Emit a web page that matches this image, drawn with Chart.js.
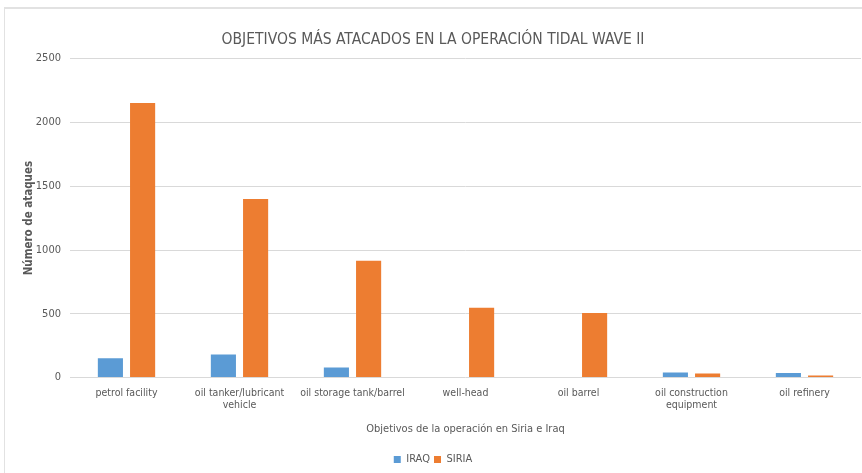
<!DOCTYPE html>
<html>
<head>
<meta charset="utf-8">
<script src="https://cdn.jsdelivr.net/npm/chart.js@4.4.0/dist/chart.umd.min.js"></script>
<style>
  html, body { margin: 0; padding: 0; background: #fff; }
  #wrap {
    position: absolute; left: 4px; top: 7px;
    width: 858px; height: 466px; background: #fff;
    border-top: 2px solid #e2e2e2; border-left: 1px solid #e2e2e2;
  }
</style>
</head>
<body>
<div id="wrap"><canvas id="chart"></canvas></div>
<script>
const categories = [
  "petrol facility",
  ["oil tanker/lubricant", "vehicle"],
  "oil storage tank/barrel",
  "well-head",
  "oil barrel",
  ["oil construction", "equipment"],
  "oil refinery"
];
const iraq = [152, 182, 80, 0, 0, 40, 36];
const siria = [2152, 1400, 915, 547, 507, 33, 17];
const yTicks = [0, 500, 1000, 1500, 2000, 2500];

const font = "'Liberation Sans Narrow', 'DejaVu Sans Condensed', sans-serif";
const grey = "#595959";

new Chart(document.getElementById("chart").getContext("2d"), {
  type: "bar",
  data: {
    labels: categories,
    datasets: [
      { label: "IRAQ", data: iraq, backgroundColor: "#5b9bd5",
        categoryPercentage: 0.57, barPercentage: 0.78 },
      { label: "SIRIA", data: siria, backgroundColor: "#ed7d31",
        categoryPercentage: 0.57, barPercentage: 0.78 }
    ]
  },
  options: {
    responsive: true,
    maintainAspectRatio: false,
    animation: false,
    layout: { padding: { left: 0, right: 2, top: 0, bottom: 0 } },
    plugins: {
      title: {
        display: true,
        text: "OBJETIVOS MÁS ATACADOS EN LA OPERACIÓN TIDAL WAVE II",
        color: grey,
        font: { family: font, size: 15.5, weight: "normal" },
        padding: { top: 22, bottom: 9 }
      },
      legend: {
        position: "bottom",
        labels: {
          color: grey, boxWidth: 7, boxHeight: 7, padding: 4,
          font: { family: font, size: 11 }
        }
      },
      tooltip: { enabled: false }
    },
    scales: {
      x: {
        grid: { display: false, drawTicks: false },
        border: { display: false },
        ticks: { color: grey, font: { family: font, size: 10.5 }, padding: 9,
                 maxRotation: 0, autoSkip: false },
        title: { display: true, text: "Objetivos de la operación en Siria e Iraq",
                 color: grey, font: { family: font, size: 11 },
                 padding: { top: 2, bottom: 14 } }
      },
      y: {
        min: 0, max: 2500,
        afterBuildTicks: s => { s.ticks = yTicks.map(v => ({ value: v })); },
        afterFit: s => { s.width = 65; },
        grid: { color: "#d9d9d9", drawTicks: false },
        border: { display: false },
        ticks: { color: grey, font: { family: font, size: 11 }, padding: 9,
                 callback: v => String(v) },
        title: { display: true, text: "Número de ataques", color: grey,
                 font: { family: font, size: 11.5, weight: "bold" },
                 padding: { top: 17, bottom: 0 } }
      }
    }
  }
});
</script>
</body>
</html>
